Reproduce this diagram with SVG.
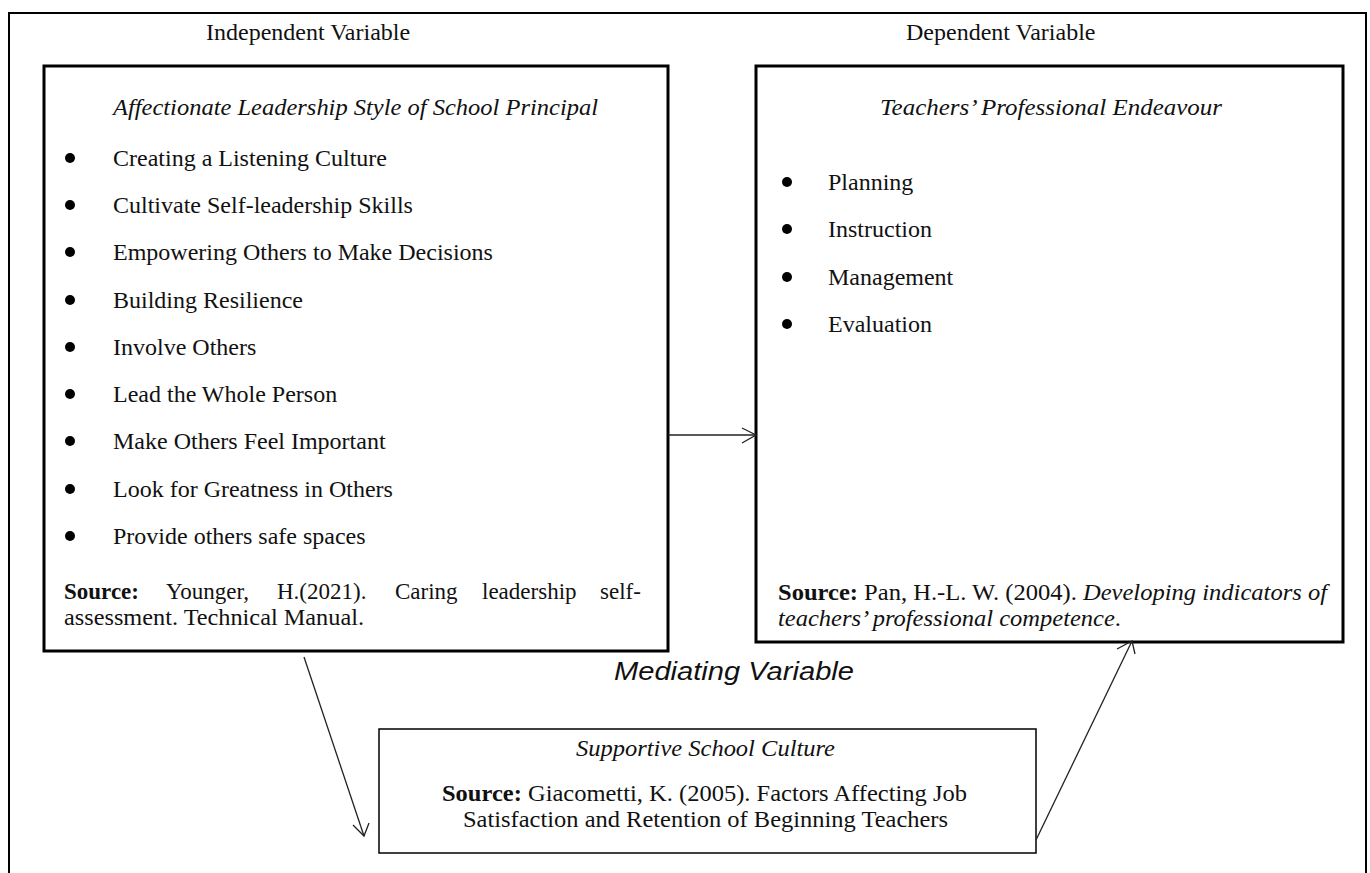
<svg xmlns="http://www.w3.org/2000/svg" width="1370" height="873" viewBox="0 0 1370 873">
<defs>
<style>
.t{font-family:"Liberation Serif","Times New Roman",serif;font-size:24px;fill:#111}
.s{font-size:23px}
.i{font-style:italic}
.b{font-weight:bold}
.box{fill:#fff;stroke:#000;stroke-width:3}
.thin{fill:#fff;stroke:#000;stroke-width:1.5}
.ln{stroke:#222;stroke-width:1.3;fill:none}
.med{font-family:"Liberation Sans",Arial,sans-serif;font-size:26px;font-style:italic;fill:#111}
</style>
</defs>
<rect x="0" y="0" width="1370" height="873" fill="#fff"/>
<path d="M9 873 V13 H1366 V873" fill="none" stroke="#000" stroke-width="2"/>
<g id="labels">
<text class="t" x="206" y="40">Independent Variable</text>
<text class="t" x="906" y="40">Dependent Variable</text>
<text class="med" x="614" y="680" textLength="240" lengthAdjust="spacingAndGlyphs">Mediating Variable</text>
</g>
<g id="independent">
<rect class="box" x="44" y="66" width="624" height="585"/>
<text class="t i" x="113" y="115" textLength="485" lengthAdjust="spacingAndGlyphs">Affectionate Leadership Style of School Principal</text>
<g fill="#000">
<circle cx="70" cy="158" r="5"/><circle cx="70" cy="205" r="5"/><circle cx="70" cy="252" r="5"/>
<circle cx="70" cy="300" r="5"/><circle cx="70" cy="347" r="5"/><circle cx="70" cy="394" r="5"/>
<circle cx="70" cy="441" r="5"/><circle cx="70" cy="489" r="5"/><circle cx="70" cy="536" r="5"/>
</g>
<text class="t" x="113" y="166">Creating a Listening Culture</text>
<text class="t" x="113" y="213">Cultivate Self-leadership Skills</text>
<text class="t" x="113" y="260">Empowering Others to Make Decisions</text>
<text class="t" x="113" y="308">Building Resilience</text>
<text class="t" x="113" y="355">Involve Others</text>
<text class="t" x="113" y="402">Lead the Whole Person</text>
<text class="t" x="113" y="449">Make Others Feel Important</text>
<text class="t" x="113" y="497">Look for Greatness in Others</text>
<text class="t" x="113" y="544">Provide others safe spaces</text>
<text class="t s" y="599"><tspan class="b" x="64">Source:</tspan><tspan x="166">Younger,</tspan><tspan x="277">H.(2021).</tspan><tspan x="395">Caring</tspan><tspan x="482">leadership</tspan><tspan x="600">self-</tspan></text>
<text class="t s" x="64" y="625" textLength="300" lengthAdjust="spacingAndGlyphs">assessment. Technical Manual.</text>
</g>
<g id="dependent">
<rect class="box" x="756" y="66" width="587" height="576"/>
<text class="t i" x="880" y="115" textLength="342" lengthAdjust="spacingAndGlyphs">Teachers’ Professional Endeavour</text>
<g fill="#000">
<circle cx="787" cy="182" r="5"/><circle cx="787" cy="229" r="5"/><circle cx="787" cy="277" r="5"/><circle cx="787" cy="324" r="5"/>
</g>
<text class="t" x="828" y="190">Planning</text>
<text class="t" x="828" y="237">Instruction</text>
<text class="t" x="828" y="285">Management</text>
<text class="t" x="828" y="332">Evaluation</text>
<text class="t s" x="778" y="600" textLength="549" lengthAdjust="spacingAndGlyphs"><tspan class="b">Source:</tspan> Pan, H.-L. W. (2004). <tspan class="i">Developing indicators of</tspan></text>
<text class="t s i" x="778" y="626" textLength="343" lengthAdjust="spacingAndGlyphs">teachers’ professional competence<tspan font-style="normal">.</tspan></text>
</g>
<g id="mediating">
<rect class="thin" x="379" y="729" width="657" height="124"/>
<text class="t i" x="576" y="756" textLength="259" lengthAdjust="spacingAndGlyphs">Supportive School Culture</text>
<text class="t s" x="442" y="801" textLength="525" lengthAdjust="spacingAndGlyphs"><tspan class="b">Source:</tspan> Giacometti, K. (2005). Factors Affecting Job</text>
<text class="t s" x="463" y="827" textLength="485" lengthAdjust="spacingAndGlyphs">Satisfaction and Retention of Beginning Teachers</text>
</g>
<g id="connectors">
<line class="ln" x1="668" y1="435" x2="756" y2="435"/>
<path class="ln" d="M742 428 L756 435 L742 443"/>
<line class="ln" x1="304" y1="657" x2="364" y2="836"/>
<path class="ln" d="M353 825 L364 836 L369 823"/>
<line class="ln" x1="1036" y1="840" x2="1132" y2="641"/>
<path class="ln" d="M1117 649 L1132 641 L1135 654"/>
</g>
</svg>
